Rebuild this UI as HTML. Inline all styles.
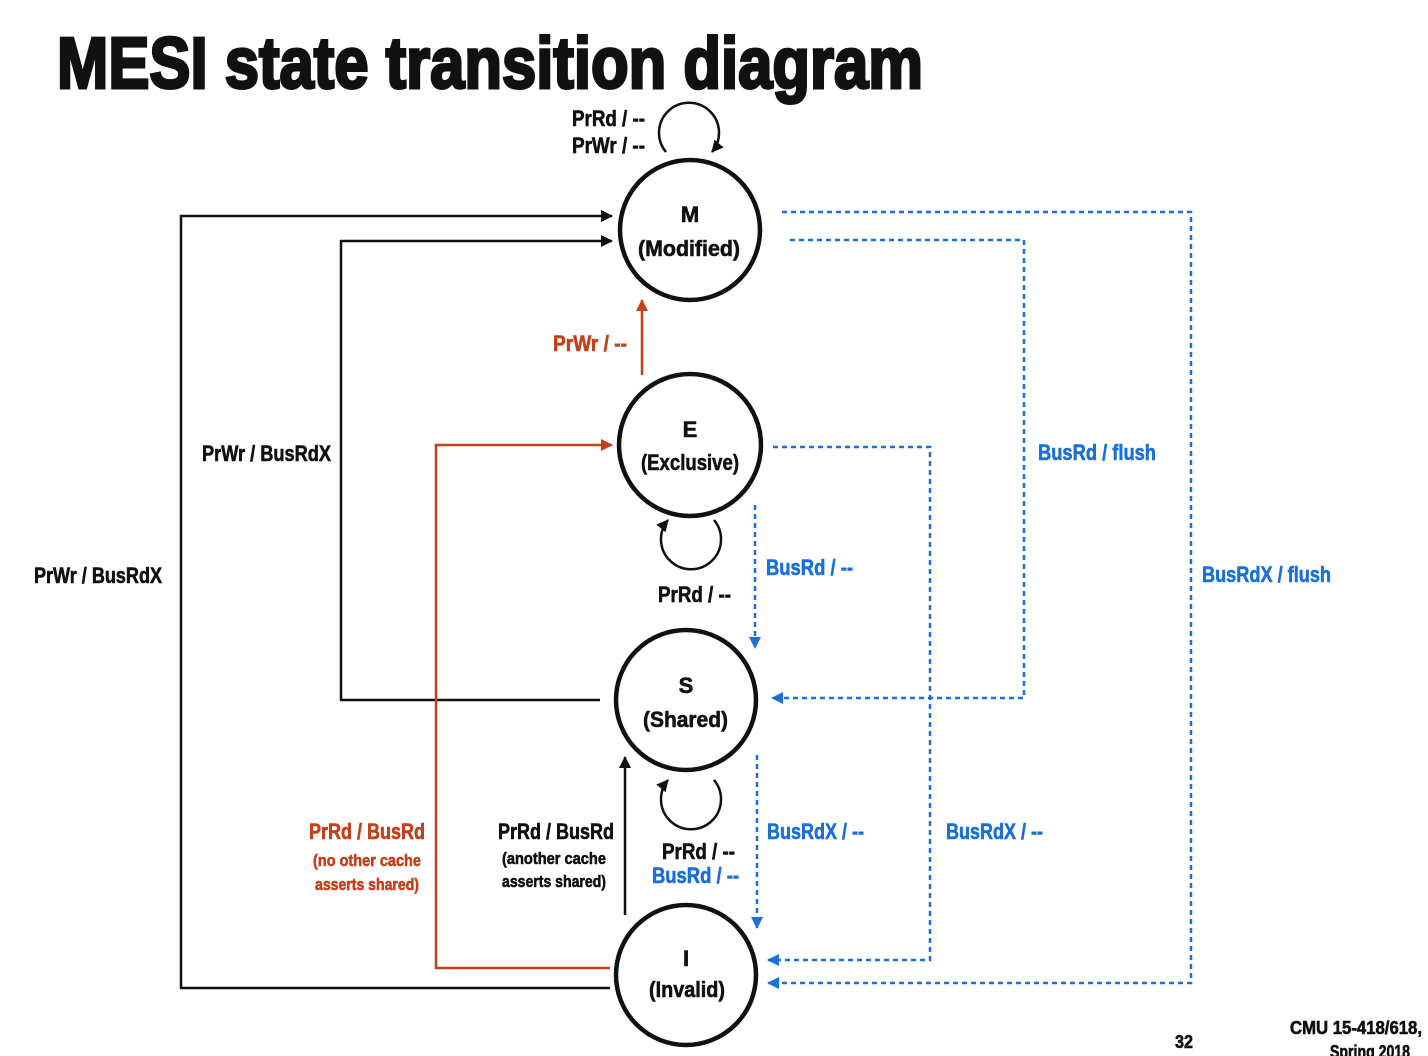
<!DOCTYPE html>
<html><head><meta charset="utf-8"><style>
html,body{margin:0;padding:0;background:#fff;width:1428px;height:1056px;overflow:hidden}
text{font-family:"Liberation Sans Narrow","Liberation Sans",sans-serif;font-weight:bold}
</style></head><body>
<svg width="1428" height="1056" viewBox="0 0 1428 1056" xmlns="http://www.w3.org/2000/svg">
<defs>
<marker id="ak" markerWidth="12" markerHeight="12" refX="11" refY="6" orient="auto" markerUnits="userSpaceOnUse"><path d="M0,0 L12,6 L0,12 z" fill="#111"/></marker>
<marker id="ar" markerWidth="12" markerHeight="12" refX="11" refY="6" orient="auto" markerUnits="userSpaceOnUse"><path d="M0,0 L12,6 L0,12 z" fill="#c4401a"/></marker>
<marker id="ab" markerWidth="12" markerHeight="12" refX="11" refY="6" orient="auto" markerUnits="userSpaceOnUse"><path d="M0,0 L12,6 L0,12 z" fill="#1a6fd8"/></marker>
</defs>
<text x="57" y="88" font-size="72" textLength="866" lengthAdjust="spacingAndGlyphs" fill="#111" stroke="#111" stroke-width="3">MESI state transition diagram</text>

<g fill="none" stroke="#111" stroke-width="4.5">
<circle cx="690" cy="230" r="70"/>
<circle cx="690" cy="445" r="71"/>
<circle cx="686" cy="700" r="70"/>
<circle cx="686" cy="975" r="70"/>
</g>

<g fill="none" stroke="#111" stroke-width="2.5">
<polyline points="610,988 181,988 181,216 612,216" marker-end="url(#ak)"/>
<polyline points="600,700 341,700 341,241 612,241" marker-end="url(#ak)"/>
<line x1="625" y1="915" x2="625" y2="757" marker-end="url(#ak)"/>
<path d="M666,152 A30,30 0 1 1 712,152" marker-end="url(#ak)"/>
<path d="M714,520 A30,30 0 1 1 668,520" marker-end="url(#ak)"/>
<path d="M714,780 A30,30 0 1 1 668,780" marker-end="url(#ak)"/>
</g>

<g fill="none" stroke="#c4401a" stroke-width="2.5">
<polyline points="610,968 436,968 436,445 612,445" marker-end="url(#ar)"/>
<line x1="642" y1="375" x2="642" y2="300" marker-end="url(#ar)"/>
</g>

<g fill="none" stroke="#1a6fd8" stroke-width="2.5" stroke-dasharray="5,4">
<polyline points="782,212 1191,212 1191,983 768,983" marker-end="url(#ab)"/>
<polyline points="790,240 1024,240 1024,698 772,698" marker-end="url(#ab)"/>
<polyline points="773,447 930,447 930,960 768,960" marker-end="url(#ab)"/>
<line x1="755" y1="505" x2="755" y2="648" marker-end="url(#ab)"/>
<line x1="757" y1="755" x2="757" y2="928" marker-end="url(#ab)"/>
</g>

<g font-size="22" fill="#111" stroke="#111" stroke-width="0.6">
<text x="572" y="126" textLength="73" lengthAdjust="spacingAndGlyphs">PrRd / --</text>
<text x="572" y="153" textLength="73" lengthAdjust="spacingAndGlyphs">PrWr / --</text>
<text x="690" y="222" text-anchor="middle">M</text>
<text x="638" y="256" textLength="102" lengthAdjust="spacingAndGlyphs">(Modified)</text>
<text x="690" y="437" text-anchor="middle">E</text>
<text x="641" y="470" textLength="98" lengthAdjust="spacingAndGlyphs">(Exclusive)</text>
<text x="202" y="461" textLength="129" lengthAdjust="spacingAndGlyphs">PrWr / BusRdX</text>
<text x="34" y="583" textLength="128" lengthAdjust="spacingAndGlyphs">PrWr / BusRdX</text>
<text x="658" y="602" textLength="73" lengthAdjust="spacingAndGlyphs">PrRd / --</text>
<text x="686" y="693" text-anchor="middle">S</text>
<text x="643" y="727" textLength="85" lengthAdjust="spacingAndGlyphs">(Shared)</text>
<text x="498" y="839" textLength="116" lengthAdjust="spacingAndGlyphs">PrRd / BusRd</text>
<text x="502" y="864" font-size="17" textLength="104" lengthAdjust="spacingAndGlyphs">(another cache</text>
<text x="502" y="887" font-size="17" textLength="104" lengthAdjust="spacingAndGlyphs">asserts shared)</text>
<text x="662" y="859" textLength="73" lengthAdjust="spacingAndGlyphs">PrRd / --</text>
<text x="686" y="966" text-anchor="middle">I</text>
<text x="649" y="997" textLength="76" lengthAdjust="spacingAndGlyphs">(Invalid)</text>
<text x="1175" y="1048" font-size="18" textLength="18" lengthAdjust="spacingAndGlyphs">32</text>
<text x="1290" y="1034" font-size="18" textLength="132" lengthAdjust="spacingAndGlyphs">CMU 15-418/618,</text>
<text x="1330" y="1058" font-size="18" textLength="80" lengthAdjust="spacingAndGlyphs">Spring 2018</text>
</g>

<g font-size="22" fill="#c4401a" stroke="#c4401a" stroke-width="0.6">
<text x="553" y="351" textLength="74" lengthAdjust="spacingAndGlyphs">PrWr / --</text>
<text x="309" y="839" textLength="116" lengthAdjust="spacingAndGlyphs">PrRd / BusRd</text>
<text x="313" y="866" font-size="17" textLength="108" lengthAdjust="spacingAndGlyphs">(no other cache</text>
<text x="315" y="890" font-size="17" textLength="104" lengthAdjust="spacingAndGlyphs">asserts shared)</text>
</g>

<g font-size="22" fill="#1a6fd8" stroke="#1a6fd8" stroke-width="0.6">
<text x="1038" y="460" textLength="118" lengthAdjust="spacingAndGlyphs">BusRd / flush</text>
<text x="1202" y="582" textLength="129" lengthAdjust="spacingAndGlyphs">BusRdX / flush</text>
<text x="766" y="575" textLength="87" lengthAdjust="spacingAndGlyphs">BusRd / --</text>
<text x="767" y="839" textLength="97" lengthAdjust="spacingAndGlyphs">BusRdX / --</text>
<text x="946" y="839" textLength="97" lengthAdjust="spacingAndGlyphs">BusRdX / --</text>
<text x="652" y="883" textLength="87" lengthAdjust="spacingAndGlyphs">BusRd / --</text>
</g>
</svg>
</body></html>
